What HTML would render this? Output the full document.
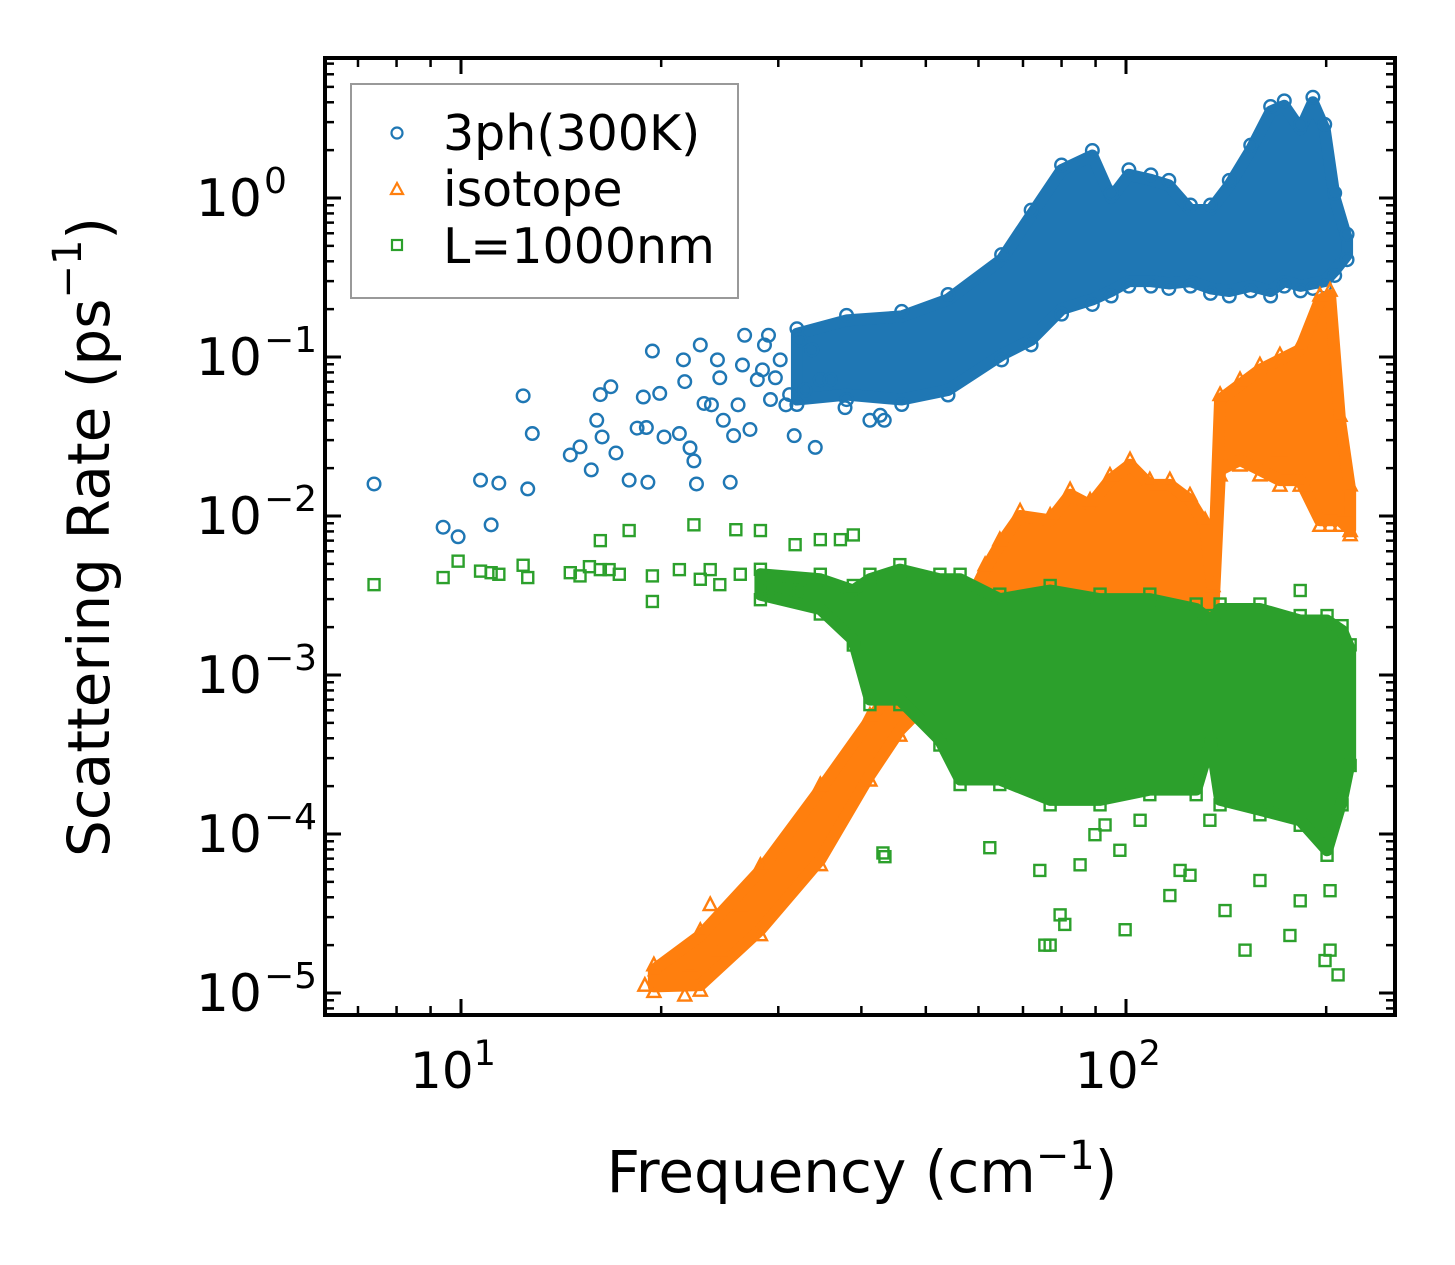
<!DOCTYPE html>
<html><head><meta charset="utf-8"><style>
html,body{margin:0;padding:0;background:#fff;}
svg{display:block;font-family:"DejaVu Sans","Liberation Sans",sans-serif;}
</style></head><body>
<svg id="chart" width="1455" height="1265" viewBox="0 0 1455 1265" xmlns="http://www.w3.org/2000/svg">
<rect x="0" y="0" width="1455" height="1265" fill="#fff"/>
<g id="marks"></g>
<g id="axes"></g>
<text x="93" y="537" transform="rotate(-90 93 537)" text-anchor="middle" dominant-baseline="middle" font-size="58">Scattering Rate (ps<tspan dy="-23" font-size="40">−1</tspan><tspan dy="23">)</tspan></text>
<text x="862" y="1192" text-anchor="middle" font-size="58">Frequency (cm<tspan dy="-23" font-size="40">−1</tspan><tspan dy="23">)</tspan></text>
<g>
<rect x="351" y="84" width="387" height="214" fill="#fff" stroke="#999" stroke-width="2"/>
<circle cx="397" cy="133" r="5.5" fill="none" stroke="#1f77b4" stroke-width="2.2"/>
<text x="443" y="150" font-size="49">3ph(300K)</text>
<polygon points="397,183 403,194 391,194" fill="none" stroke="#ff7f0e" stroke-width="2.2"/>
<text x="443" y="206" font-size="49">isotope</text>
<rect x="392" y="240" width="10" height="10" fill="none" stroke="#2ca02c" stroke-width="2.2"/>
<text x="443" y="263" font-size="49">L=1000nm</text>
</g>
</svg>
<script>
// ---- data ----
const blueFreq=[7.4,9.4,9.9,10.7,11.1,11.4,12.4,12.8,12.6,14.6,15.1,15.7,16.0,16.2,16.3,16.8,17.1,17.9,18.4,18.8,19.1,19.4,19.0,19.9,20.2,21.3,21.6,21.7,22.1,22.4,22.6,22.9,23.2,23.8,24.3,24.5,24.8,25.4,25.7,26.1,26.7,26.5,27.2,27.9,28.4,28.6,29.0,29.2,29.7,30.2,30.8,31.2,31.7,32.3,32.9,33.7,34.1,34.7,35.9,37.8,41.2,42.7,43.3];
const blueRate=[0.0159,0.0085,0.0074,0.0168,0.0088,0.0161,0.057,0.033,0.0148,0.0242,0.0272,0.0195,0.040,0.058,0.0314,0.065,0.0249,0.0168,0.0357,0.056,0.0163,0.109,0.036,0.059,0.0314,0.033,0.096,0.070,0.0268,0.0222,0.0159,0.119,0.051,0.050,0.096,0.074,0.040,0.0163,0.032,0.050,0.137,0.089,0.035,0.072,0.083,0.119,0.137,0.054,0.074,0.096,0.050,0.058,0.032,0.128,0.062,0.111,0.027,0.072,0.072,0.048,0.040,0.043,0.040];
const blueBandFreq=[32,38,46,54,65,72,80,89,95,101,109,116,125,134,143,154,165,173,183,191,199,206,215];
const blueBandHigh=[0.14,0.17,0.18,0.23,0.41,0.78,1.5,1.85,1.0,1.4,1.3,1.2,0.84,0.84,1.2,2.0,3.5,3.8,2.7,4.0,2.7,1.0,0.55];
const blueBandLow=[0.054,0.058,0.054,0.062,0.103,0.128,0.2,0.23,0.26,0.3,0.3,0.29,0.3,0.27,0.26,0.28,0.26,0.3,0.28,0.29,0.3,0.35,0.44];

const orangeFreq=[18.9,19.6,21.7,22.1,24.5,23.7,26.3,217.3,213.5,180,170.4];
const orangeRate=[1.12e-5,1.4e-5,9.7e-6,1.5e-5,1.86e-5,3.6e-5,3.6e-5,8.1e-3,1.09e-2,1.73e-2,2.6e-2];
const orangeBandFreq=[19.5,22.9,28.2,34.7,41.2,45.7,50.7,56.3,61.4,64.6,69.3,76.9,82.4,88.3,94.6,101.4,108.6,116.4,124.8,131.5,135.1,138.5,148.4,159.0,170.4,182.8,195.7,202.7,209.8,217.3];
const orangeBandHigh=[1.4e-5,2.3e-5,5.9e-5,1.9e-4,5.2e-4,9.3e-4,8.1e-4,2.2e-3,4.6e-3,6.6e-3,1.0e-2,9.4e-3,1.36e-2,1.17e-2,1.68e-2,2.1e-2,1.57e-2,1.57e-2,1.26e-2,8.8e-3,3.4e-3,5.4e-2,6.7e-2,8.3e-2,9.6e-2,0.111,0.228,0.245,0.040,0.0146];
const orangeBandLow=[1.1e-5,1.12e-5,2.5e-5,6.9e-5,2.35e-4,4.5e-4,7e-4,8.1e-4,1.66e-3,1.66e-3,1.66e-3,1.66e-3,1.66e-3,1.66e-3,1.66e-3,1.66e-3,1.66e-3,1.66e-3,1.66e-3,1.66e-3,2.2e-3,1.95e-2,2.25e-2,1.95e-2,1.68e-2,1.68e-2,9.4e-3,9.4e-3,9.4e-3,8.2e-3];

const greenFreq=[7.4,9.4,9.9,10.7,11.1,11.4,12.4,12.6,14.6,15.1,15.6,16.2,16.2,16.7,17.3,17.9,19.4,19.4,21.3,22.4,23.7,22.9,24.5,25.9,26.3,28.2,28.6,29.2,31.2,31.8,32.3,34.7,37.2,38.5,38.9,
43.1,43.4,62.4,75.5,76.9,74.2,79.6,85.3,89.8,99.7,105,116.4,124.8,151,159,176.4,182.8,199.2,202.7,208.4,202.7,185.8,182.8,170.4,140.9,120.6,97.9,93,80.9,133.7];
const greenRate=[3.7e-3,4.1e-3,5.2e-3,4.5e-3,4.4e-3,4.3e-3,4.9e-3,4.1e-3,4.4e-3,4.2e-3,4.8e-3,7.0e-3,4.6e-3,4.6e-3,4.3e-3,8.1e-3,4.2e-3,2.9e-3,4.6e-3,8.8e-3,4.6e-3,4.0e-3,3.7e-3,8.2e-3,4.3e-3,8.1e-3,4.1e-3,3.4e-3,3.8e-3,6.6e-3,3.4e-3,7.1e-3,7.1e-3,3.0e-3,7.6e-3,
7.6e-5,7.2e-5,8.2e-5,2.0e-5,2.0e-5,5.9e-5,3.1e-5,6.4e-5,9.9e-5,2.5e-5,1.22e-4,4.1e-5,5.5e-5,1.86e-5,5.1e-5,2.3e-5,3.8e-5,1.6e-5,1.86e-5,1.3e-5,4.4e-5,1.76e-4,3.4e-3,1.64e-4,3.3e-5,5.9e-5,7.9e-5,1.14e-4,2.7e-5,1.22e-4];
const greenBandFreq=[28.2,34.7,38.9,41.2,45.7,52.5,56.3,64.6,76.9,91.4,108.6,127.5,134.2,138.5,159.0,182.8,200.6,211.3,217.3];
const greenBandHigh=[4.3e-3,4.0e-3,3.4e-3,4.0e-3,4.6e-3,4.0e-3,4.0e-3,3.0e-3,3.4e-3,3.0e-3,3.0e-3,2.6e-3,2.2e-3,2.6e-3,2.6e-3,2.2e-3,2.2e-3,1.9e-3,1.44e-3];
const greenBandLow=[3.2e-3,2.6e-3,1.66e-3,7e-4,7e-4,3.9e-4,2.2e-4,2.2e-4,1.64e-4,1.64e-4,1.9e-4,1.9e-4,3.9e-4,1.64e-4,1.42e-4,1.22e-4,7.9e-5,1.64e-4,2.9e-4];

const xMajor=[10,100];
const xMajorLabels=["1","2"];
const yMajor=[1,0.1,0.01,0.001,1e-4,1e-5];
const yMajorLabels=["0","−1","−2","−3","−4","−5"];

// ---- axes functions ----
const L=325,R=1395,T=58,B=1015;
const X0=461,XD=665,Y0=198,YD=159;
function sx(f){return X0+(Math.log10(f)-1)*XD;}
function sy(r){return Y0-Math.log10(r)*YD;}
const NS="http://www.w3.org/2000/svg";
const marks=document.getElementById('marks');
const axes=document.getElementById('axes');
function mk(tag,attrs,parent){const e=document.createElementNS(NS,tag);for(const k in attrs)e.setAttribute(k,attrs[k]);parent.appendChild(e);return e;}

function marker(kind,x,y,color,g){
  let e;
  if(kind==='circle'){e=mk('circle',{cx:x,cy:y,r:6.3,fill:'none',stroke:color,'stroke-width':2.4},g);}
  else if(kind==='tri'){e=mk('polygon',{points:x+','+(y-7)+' '+(x+6.5)+','+(y+5.5)+' '+(x-6.5)+','+(y+5.5),fill:'none',stroke:color,'stroke-width':2.4},g);}
  else {e=mk('rect',{x:x-5.5,y:y-5.5,width:11,height:11,fill:'none',stroke:color,'stroke-width':2.4},g);}
  return e;
}
function series(name,kind,color,pf,pr,bf,bh,bl){
  const g=mk('g',{},marks);
  
  
  const pts=[];
  for(let i=0;i<bf.length;i++)pts.push(sx(bf[i])+','+sy(bh[i]));
  for(let i=bf.length-1;i>=0;i--)pts.push(sx(bf[i])+','+sy(bl[i]));
  const band=mk('polygon',{points:pts.join(' '),fill:color,stroke:color,'stroke-width':12,'stroke-linejoin':'round'},g);
  
  
  for(let i=0;i<bf.length;i++){
    const a=marker(kind,sx(bf[i]),sy(bh[i])-5,color,g);
    
    
    const b=marker(kind,sx(bf[i]),sy(bl[i])+5,color,g);
    
    
  }
  for(let i=0;i<pf.length;i++){
    const p=marker(kind,sx(pf[i]),sy(pr[i]),color,g);
    
    
  }
}
series('3ph','circle','#1f77b4',blueFreq,blueRate,blueBandFreq,blueBandHigh,blueBandLow);
series('isotope','tri','#ff7f0e',orangeFreq,orangeRate,orangeBandFreq,orangeBandHigh,orangeBandLow);
series('boundary','square','#2ca02c',greenFreq,greenRate,greenBandFreq,greenBandHigh,greenBandLow);

// frame
const frame=mk('rect',{x:L,y:T,width:R-L,height:B-T,fill:'none',stroke:'#000','stroke-width':4},axes);


function tick(x1,y1,x2,y2,w){mk('line',{x1:x1,y1:y1,x2:x2,y2:y2,stroke:'#000','stroke-width':w},axes);}
// x ticks
for(let d=0;d<3;d++){for(let m=1;m<10;m++){const f=m*Math.pow(10,d);const x=sx(f);if(x<L+2||x>R-2)continue;
  const len=m===1?16:9,w=m===1?3:2.5;tick(x,B,x,B-len,w);tick(x,T,x,T+len,w);}}
xMajor.forEach(function(f,i){const t=mk('text',{x:sx(f)-8,y:1088,'text-anchor':'middle','font-size':50},axes);
  t.textContent='10';const s=mk('tspan',{dy:-23,'font-size':35},t);s.textContent=xMajorLabels[i];
  
  });
// y ticks
for(let d=-6;d<1;d++){for(let m=1;m<10;m++){const r=m*Math.pow(10,d);const y=sy(r);if(y<T+2||y>B-2)continue;
  const len=m===1?16:9,w=m===1?3:2.5;tick(L,y,L+len,y,w);tick(R,y,R-len,y,w);}}
yMajor.forEach(function(r,i){const t=mk('text',{x:262,y:sy(r)+18,'text-anchor':'end','font-size':52},axes);
  t.textContent='10';
  
  
  const s=mk('text',{x:264,y:sy(r)-5,'text-anchor':'start','font-size':36},axes);s.textContent=yMajorLabels[i];
  
  });
</script>
</body></html>
